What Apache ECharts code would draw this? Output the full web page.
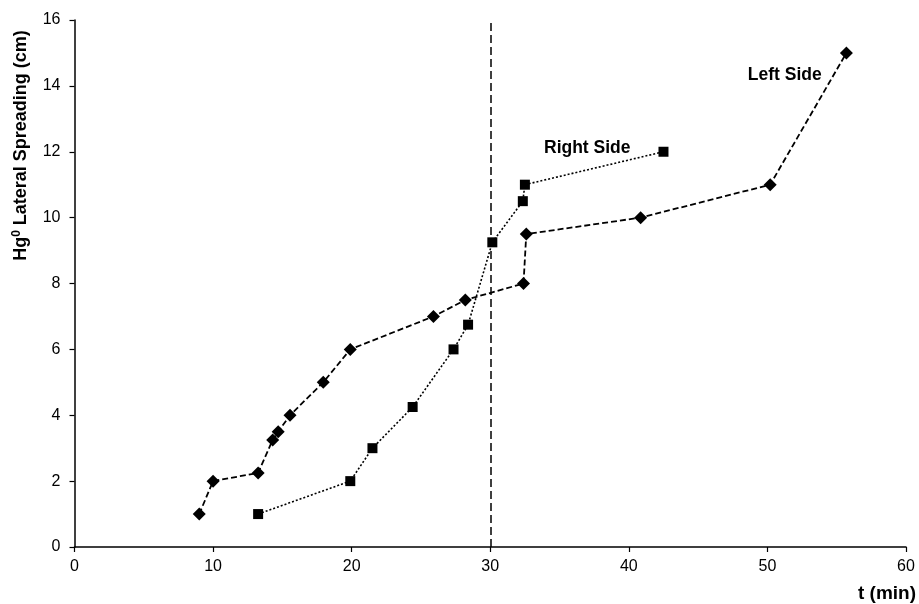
<!DOCTYPE html>
<html>
<head>
<meta charset="utf-8">
<script src="https://cdn.jsdelivr.net/npm/echarts@6/dist/echarts.min.js"></script>
<style>
  html, body { margin: 0; padding: 0; background: #fff; }
  #chart { width: 919px; height: 604px; }
</style>
</head>
<body>
<div id="chart"></div>
<script>
// Left side spreading front: time (min) and distance (cm)
var leftTime = [9.0, 10.0, 13.25, 14.3, 14.7, 15.55, 17.95, 19.9, 25.9, 28.2, 32.4, 32.6, 40.85, 50.2, 55.7];
var leftSpread = [1.0, 2.0, 2.25, 3.25, 3.5, 4.0, 5.0, 6.0, 7.0, 7.5, 8.0, 9.5, 10.0, 11.0, 15.0];

// Right side spreading front
var rightTime = [13.25, 19.9, 21.5, 24.4, 27.35, 28.4, 30.15, 32.35, 32.5, 42.5];
var rightSpread = [1.0, 2.0, 3.0, 4.25, 6.0, 6.75, 9.25, 10.5, 11.0, 12.0];

// Reference time marked with a vertical dashed line
var markTime = 30;

var xTicks = { min: 0, max: 60, interval: 10 };
var yTicks = { min: 0, max: 16, interval: 2 };

function pairs(xs, ys) {
  return xs.map(function (x, i) { return [x, ys[i]]; });
}

var font = 'Liberation Sans, Arial, sans-serif';
var chart = echarts.init(document.getElementById('chart'), null, { renderer: 'canvas' });

chart.setOption({
  animation: false,
  backgroundColor: '#ffffff',
  grid: { left: 74.5, right: 13, top: 20, bottom: 57, containLabel: false },
  xAxis: {
    type: 'value',
    min: xTicks.min, max: xTicks.max, interval: xTicks.interval,
    name: 't (min)',
    nameLocation: 'end',
    nameGap: 10,
    nameTextStyle: {
      fontFamily: font, fontSize: 19, fontWeight: 'bold', color: '#000',
      align: 'right', verticalAlign: 'top', padding: [37, 0, 0, 0]
    },
    axisLine: { lineStyle: { color: '#000', width: 1.5 } },
    axisTick: { show: true, length: 5, lineStyle: { color: '#000', width: 1.2 } },
    axisLabel: { fontFamily: font, fontSize: 16, color: '#000', margin: 12 },
    splitLine: { show: false }
  },
  yAxis: {
    type: 'value',
    min: yTicks.min, max: yTicks.max, interval: yTicks.interval,
    name: '{a|Hg}{s|0}{a| Lateral Spreading (cm)}',
    nameLocation: 'middle',
    nameGap: 42,
    nameRotate: 90,
    nameTextStyle: {
      padding: [0, 0, 0, 276],
      rich: {
        a: { fontFamily: font, fontSize: 18, fontWeight: 'bold', color: '#000', lineHeight: 22 },
        s: { fontFamily: font, fontSize: 12, fontWeight: 'bold', color: '#000', verticalAlign: 'top', lineHeight: 22, padding: [0, 0, 7, 0] }
      }
    },
    axisLine: { show: true, lineStyle: { color: '#000', width: 1.5 } },
    axisTick: { show: true, length: 5, lineStyle: { color: '#000', width: 1.2 } },
    axisLabel: { fontFamily: font, fontSize: 16, color: '#000', margin: 14 },
    splitLine: { show: false }
  },
  series: [
    {
      name: 'Left Side',
      type: 'line',
      data: pairs(leftTime, leftSpread),
      symbol: 'diamond',
      symbolSize: 13,
      itemStyle: { color: '#000' },
      lineStyle: { color: '#000', width: 1.8, type: [6, 3] },
      z: 3,
      markPoint: {
        symbol: 'circle', symbolSize: 0, silent: true,
        label: {
          show: true, position: 'inside', formatter: 'Left Side',
          fontFamily: font, fontSize: 17.5, fontWeight: 'bold', color: '#000'
        },
        data: [{ coord: [51.25, 14.33] }]
      },
      markLine: {
        silent: true,
        symbol: ['none', 'none'],
        label: { show: false },
        lineStyle: { color: '#000', width: 1.5, type: [8, 4] },
        data: [{ xAxis: markTime }]
      }
    },
    {
      name: 'Right Side',
      type: 'line',
      data: pairs(rightTime, rightSpread),
      symbol: 'rect',
      symbolSize: 10,
      itemStyle: { color: '#000' },
      lineStyle: { color: '#000', width: 1.6, type: [2, 2] },
      z: 3,
      markPoint: {
        symbol: 'circle', symbolSize: 0, silent: true,
        label: {
          show: true, position: 'inside', formatter: 'Right Side',
          fontFamily: font, fontSize: 17.5, fontWeight: 'bold', color: '#000'
        },
        data: [{ coord: [37.0, 12.11] }]
      }
    }
  ]
});
</script>
</body>
</html>
